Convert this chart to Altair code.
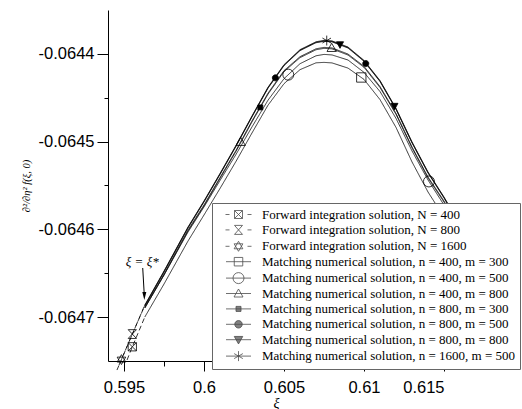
import altair as alt
import pandas as pd

# ---------------------------------------------------------------------------
# Data
# ---------------------------------------------------------------------------
# abscissa grid shared by the matching numerical solutions (they start at xi*)
xi = [0.5963, 0.5975, 0.5990, 0.6000, 0.6010, 0.6020, 0.6030, 0.6040, 0.6050,
      0.6060, 0.6070, 0.6075, 0.6080, 0.6090, 0.6100, 0.6110, 0.6120, 0.6130,
      0.6140, 0.6150, 0.6160, 0.6170]

m_n400_m300 = [-0.0646999, -0.0646623, -0.0646133, -0.0645836, -0.0645534, -0.0645225,
               -0.0644901, -0.0644585, -0.0644340, -0.0644180, -0.0644102, -0.0644097,
               -0.0644103, -0.0644162, -0.0644291, -0.0644521, -0.0644838, -0.0645231,
               -0.0645574, -0.0645859, -0.0646172, -0.0646503]
m_n400_m500 = [-0.0646896, -0.0646521, -0.0646030, -0.0645744, -0.0645443, -0.0645146,
               -0.0644832, -0.0644528, -0.0644283, -0.0644112, -0.0644022, -0.0644006,
               -0.0644012, -0.0644070, -0.0644211, -0.0644429, -0.0644735, -0.0645106,
               -0.0645437, -0.0645722, -0.0646035, -0.0646366]
m_n400_m800 = [-0.0646885, -0.0646509, -0.0646007, -0.0645722, -0.0645409, -0.0645100,
               -0.0644764, -0.0644448, -0.0644191, -0.0644032, -0.0643942, -0.0643926,
               -0.0643932, -0.0644002, -0.0644142, -0.0644372, -0.0644678, -0.0645060,
               -0.0645403, -0.0645677, -0.0645990, -0.0646321]
m_n800_m300 = [-0.0646896, -0.0646520, -0.0646018, -0.0645733, -0.0645420, -0.0645111,
               -0.0644775, -0.0644459, -0.0644202, -0.0644043, -0.0643953, -0.0643937,
               -0.0643943, -0.0644013, -0.0644153, -0.0644383, -0.0644689, -0.0645071,
               -0.0645414, -0.0645688, -0.0646001, -0.0646332]
m_n800_m500 = [-0.0646873, -0.0646486, -0.0645984, -0.0645687, -0.0645374, -0.0645054,
               -0.0644718, -0.0644391, -0.0644134, -0.0643963, -0.0643873, -0.0643857,
               -0.0643863, -0.0643933, -0.0644085, -0.0644315, -0.0644632, -0.0645014,
               -0.0645357, -0.0645642, -0.0645955, -0.0646286]
m_n800_m800 = [-0.0646868, -0.0646481, -0.0645979, -0.0645682, -0.0645369, -0.0645049,
               -0.0644713, -0.0644386, -0.0644129, -0.0643958, -0.0643868, -0.0643852,
               -0.0643858, -0.0643928, -0.0644080, -0.0644310, -0.0644627, -0.0645009,
               -0.0645352, -0.0645637, -0.0645950, -0.0646281]
m_n1600_m500 = [-0.0646862, -0.0646475, -0.0645973, -0.0645676, -0.0645363, -0.0645043,
                -0.0644707, -0.0644380, -0.0644123, -0.0643952, -0.0643862, -0.0643846,
                -0.0643852, -0.0643922, -0.0644074, -0.0644304, -0.0644621, -0.0645003,
                -0.0645346, -0.0645631, -0.0645944, -0.0646275]

# forward integration solutions, from below the axis up to xi*
fw_n400_xi = [0.59519, 0.59552, 0.5963]
fw_n400_y = [-0.0647489, -0.0647338, -0.0646999]
fw_n800_xi = [0.59469, 0.59552, 0.5963]
fw_n800_y = [-0.0647546, -0.0647193, -0.0646868]
fw_n1600_xi = [0.59456, 0.59484, 0.5963]
fw_n1600_y = [-0.0647603, -0.0647484, -0.0646862]

labels = [
    "Forward integration solution, N = 400",
    "Forward integration solution, N = 800",
    "Forward integration solution, N = 1600",
    "Matching numerical solution, n = 400, m = 300",
    "Matching numerical solution, n = 400, m = 500",
    "Matching numerical solution, n = 400, m = 800",
    "Matching numerical solution, n = 800, m = 300",
    "Matching numerical solution, n = 800, m = 500",
    "Matching numerical solution, n = 800, m = 800",
    "Matching numerical solution, n = 1600, m = 500",
]

# marker positions along each curve
marker_xi = [[0.59552], [0.59552], [0.59484], [0.60983], [0.60527, 0.61406],
             [0.60229, 0.60798], [0.60352], [0.60446, 0.61011], [0.60850, 0.61190],
             [0.60767]]
marker_y = [[-0.0647338], [-0.0647193], [-0.0647484], [-0.0644269],
            [-0.0644237, -0.0645454], [-0.0645003, -0.0643932], [-0.0644610],
            [-0.0644273, -0.0644110], [-0.0643893, -0.0644595], [-0.0643848]]

# annotation for xi = xi*
arrow_xi = [0.59617, 0.59626]
arrow_y = [-0.0646440, -0.0646725]
arrow_tip = (0.59627, -0.0646760)
note_pos = (0.59614, -0.0646372)

# ---------------------------------------------------------------------------
# Tables
# ---------------------------------------------------------------------------
rows = []
for lab, xs, ys in zip(labels[:3], [fw_n400_xi, fw_n800_xi, fw_n1600_xi],
                       [fw_n400_y, fw_n800_y, fw_n1600_y]):
    for x, y in zip(xs, ys):
        rows.append({"series": lab, "kind": "forward", "xi": x, "f": y})
for lab, ys in zip(labels[3:], [m_n400_m300, m_n400_m500, m_n400_m800, m_n800_m300,
                                m_n800_m500, m_n800_m800, m_n1600_m500]):
    for x, y in zip(xi, ys):
        rows.append({"series": lab, "kind": "matching", "xi": x, "f": y})
curves = pd.DataFrame(rows)

mrows = []
for lab, xs, ys in zip(labels, marker_xi, marker_y):
    for x, y in zip(xs, ys):
        mrows.append({"series": lab, "xi": x, "f": y})
marks = pd.DataFrame(mrows)

# marker glyphs drawn on the curves (unit box -1..1)
plot_shapes = [
    "M-0.75,-0.75H0.75V0.75H-0.75Z M-0.75,-0.75L0.75,0.75 M0.75,-0.75L-0.75,0.75",
    "M-0.75,-0.8H0.75L-0.75,0.8H0.75Z",
    "M0,-0.9L0.78,0.45H-0.78Z M0,0.9L0.78,-0.45H-0.78Z",
    "M-0.85,-0.85H0.85V0.85H-0.85Z",
    "M1,0A1,1,0,1,1,-1,0A1,1,0,1,1,1,0Z",
    "M0,-0.85L0.85,0.65H-0.85Z",
    "M-0.45,-0.45H0.45V0.45H-0.45Z",
    "M0.55,0A0.55,0.55,0,1,1,-0.55,0A0.55,0.55,0,1,1,0.55,0Z",
    "M-0.65,-0.5H0.65L0,0.7Z",
    "M0,-0.9V0.9 M-0.78,-0.45L0.78,0.45 M-0.78,0.45L0.78,-0.45",
]
# legend keys (size 100 -> 5 px per unit): glyph with line pieces on both sides
dash = "M-2.6,0H-1.8 M1.8,0H2.6 "
solid = "M-2.5,0H2.5 "
legend_shapes = [
    dash + "M-0.8,-0.8H0.8V0.8H-0.8Z M-0.8,-0.8L0.8,0.8 M0.8,-0.8L-0.8,0.8",
    dash + "M-0.8,-0.9H0.8L-0.8,0.9H0.8Z",
    dash + "M0,-1L0.87,0.5H-0.87Z M0,1L0.87,-0.5H-0.87Z",
    solid + "M-0.85,-0.85H0.85V0.85H-0.85Z",
    solid + "M1.1,0A1.1,1.1,0,1,1,-1.1,0A1.1,1.1,0,1,1,1.1,0Z",
    solid + "M0,-0.9L0.9,0.7H-0.9Z",
    solid + "M-0.5,-0.5H0.5V0.5H-0.5Z",
    solid + "M0.75,0A0.75,0.75,0,1,1,-0.75,0A0.75,0.75,0,1,1,0.75,0Z",
    solid + "M-0.85,-0.65H0.85L0,0.85Z",
    solid + "M0,-1V1 M-0.87,-0.5L0.87,0.5 M-0.87,0.5L0.87,-0.5",
]
fills = ["transparent"] * 6 + ["black"] * 4
strokes = ["black"] * 10

# ---------------------------------------------------------------------------
# Chart
# ---------------------------------------------------------------------------
x_major = "abs(datum.value*200 - round(datum.value*200)) < 0.001"
y_major = "abs(datum.value*10000 - round(datum.value*10000)) < 0.001"

x_enc = alt.X(
    "xi:Q",
    scale=alt.Scale(domain=[0.594, 0.615], nice=False, zero=False),
    axis=alt.Axis(
        title="ξ",
        values=[0.595, 0.5975, 0.6, 0.6025, 0.605, 0.6075, 0.61, 0.6125, 0.615],
        labelExpr=f"{x_major} ? format(datum.value, '.3~f') : ''",
        tickSize={"condition": {"test": x_major, "value": 10}, "value": 5},
        labelPadding=8,
        titleColor="black",
        titleFont="Liberation Serif", titleFontStyle="italic", titleFontWeight="normal",
        titleFontSize=14, titleY=42, titleBaseline="middle",
    ),
)
y_enc = alt.Y(
    "f:Q",
    scale=alt.Scale(domain=[-0.06475, -0.06435], nice=False, zero=False),
    axis=alt.Axis(
        title="∂²/∂η² f(ξ, 0)",
        values=[-0.0647, -0.06465, -0.0646, -0.06455, -0.0645, -0.06445, -0.0644],
        labelExpr=f"{y_major} ? '-' + format(-datum.value, '.4f') : ''",
        tickSize={"condition": {"test": y_major, "value": 11}, "value": 4},
        labelPadding=3,
        titleColor="black",
        titleFont="Liberation Serif", titleFontStyle="italic", titleFontWeight="normal",
        titleFontSize=10.5, titleX=-82, titleBaseline="middle",
    ),
)

lines = alt.Chart(curves).mark_line(color="black", strokeWidth=0.8).encode(
    x=x_enc,
    y=y_enc,
    detail="series:N",
    order="xi:Q",
    strokeDash=alt.StrokeDash(
        "kind:N",
        scale=alt.Scale(domain=["forward", "matching"], range=[[5, 3], [1, 0]]),
        legend=None,
    ),
)

points = alt.Chart(marks).mark_point(
    filled=True, size=121, stroke="black", strokeWidth=0.8, opacity=1
).encode(
    x="xi:Q",
    y="f:Q",
    shape=alt.Shape("series:N", scale=alt.Scale(domain=labels, range=plot_shapes),
                    legend=None),
    fill=alt.Fill("series:N", scale=alt.Scale(domain=labels, range=fills), legend=None),
)

key_legend = alt.Legend(
    title=None,
    orient="none",
    legendX=104,
    legendY=193,
    fillColor="white",
    strokeColor="#666666",
    padding=5,
    labelFont="Liberation Serif",
    labelFontSize=13,
    labelColor="black",
    labelLimit=400,
    labelOffset=17,
    symbolOffset=15,
    symbolSize=100,
    symbolStrokeWidth=0.8,
    rowPadding=1.4,
)
# legend-only layer: the filter keeps no rows, the fixed domains keep every entry
legend_keys = alt.Chart(marks).transform_filter("false").mark_point(
    filled=False, strokeWidth=0.8
).encode(
    x="xi:Q",
    y="f:Q",
    shape=alt.Shape("series:N", scale=alt.Scale(domain=labels, range=legend_shapes),
                    legend=key_legend, sort=labels),
    fill=alt.Fill("series:N", scale=alt.Scale(domain=labels, range=fills),
                  legend=key_legend, sort=labels),
    stroke=alt.Stroke("series:N", scale=alt.Scale(domain=labels, range=strokes),
                      legend=key_legend, sort=labels),
)

arrow_df = pd.DataFrame({"xi": [arrow_xi[0]], "f": [arrow_y[0]],
                         "xi2": [arrow_xi[1]], "f2": [arrow_y[1]]})
arrow = alt.Chart(arrow_df).mark_rule(color="black", strokeWidth=1).encode(
    x="xi:Q", y="f:Q", x2="xi2:Q", y2="f2:Q"
)
head = alt.Chart(pd.DataFrame({"xi": [arrow_tip[0]], "f": [arrow_tip[1]]})).mark_point(
    shape="M-0.5,-1L0.5,-1L0,1Z", size=64, filled=True, fill="black", strokeWidth=0,
    opacity=1
).encode(x="xi:Q", y="f:Q")
note = alt.Chart(pd.DataFrame({"xi": [note_pos[0]], "f": [note_pos[1]],
                               "t": ["ξ = ξ*"]})).mark_text(
    font="Liberation Serif", fontSize=13, fontStyle="italic", color="black",
    align="center", baseline="middle"
).encode(x="xi:Q", y="f:Q", text="t:N")

chart = (
    alt.layer(lines, points, legend_keys, arrow, head, note)
    .resolve_scale(shape="independent", fill="independent", stroke="independent")
    .properties(
        width=336,
        height=351,
        autosize=alt.AutoSizeParams(type="none"),
        padding={"left": 108, "top": 10, "right": 78, "bottom": 48},
        background="white",
    )
    .configure_view(stroke=None)
    .configure_axis(
        grid=False,
        domainColor="black",
        domainWidth=1,
        tickColor="black",
        tickWidth=1,
        labelColor="black",
        labelFont="Liberation Sans",
        labelFontSize=16.5,
        titleColor="black",
    )
)

chart.save("out.html", embed_options={"renderer": "svg", "actions": False})
